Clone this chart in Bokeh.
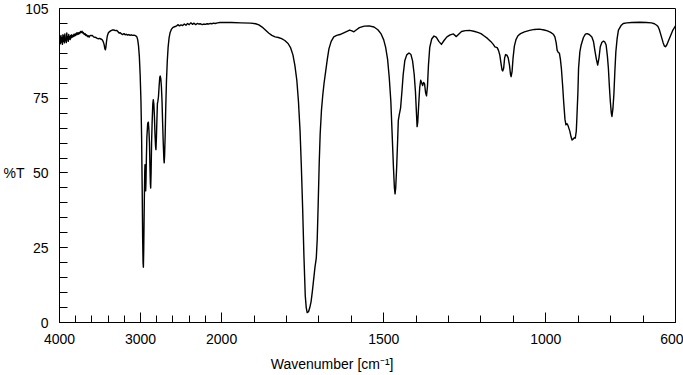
import numpy as np
from bokeh.plotting import figure
from bokeh.models import Range1d, FixedTicker, LinearAxis
from bokeh.embed import file_html
from bokeh.resources import INLINE

# ---------------- data ----------------
wavenumber = [
    4000, 3994, 3988, 3982, 3976, 3970, 3964, 3958, 3952, 3946, 3940, 3934, 3928, 3922, 3916, 3910,
    3904, 3898, 3892, 3886, 3880, 3874, 3868, 3862, 3856, 3850, 3844, 3838, 3830, 3822, 3814, 3806,
    3798, 3790, 3782, 3774, 3766, 3758, 3750, 3740, 3730, 3722, 3714, 3705, 3695, 3685, 3675, 3665,
    3655, 3645, 3635, 3625, 3615, 3605, 3595, 3580, 3565, 3550, 3535, 3520, 3505, 3490, 3475, 3462,
    3450, 3440, 3434, 3428, 3420, 3410, 3398, 3385, 3370, 3350, 3330, 3310, 3295, 3280, 3265, 3250,
    3235, 3220, 3205, 3190, 3175, 3160, 3145, 3130, 3115, 3100, 3085, 3070, 3055, 3045, 3035, 3025,
    3015, 3005, 2995, 2987, 2980, 2974, 2969, 2965, 2961, 2957, 2953, 2948, 2945, 2941, 2937, 2933,
    2928, 2922, 2912, 2904, 2897, 2890, 2884, 2879, 2875, 2870, 2864, 2857, 2849, 2843, 2836, 2829,
    2822, 2815, 2810, 2804, 2798, 2792, 2786, 2779, 2771, 2763, 2757, 2750, 2743, 2735, 2728, 2720,
    2712, 2708, 2703, 2696, 2689, 2680, 2670, 2660, 2648, 2635, 2620, 2600, 2580, 2560, 2540, 2520,
    2500, 2480, 2460, 2440, 2420, 2400, 2380, 2360, 2340, 2320, 2300, 2280, 2260, 2240, 2220, 2200,
    2180, 2160, 2140, 2120, 2100, 2080, 2050, 2020, 2000, 1970, 1940, 1910, 1895, 1885, 1875, 1865,
    1855, 1845, 1835, 1825, 1815, 1805, 1795, 1787, 1780, 1774, 1768, 1763, 1758, 1754, 1750, 1746,
    1742, 1739, 1736, 1732, 1728, 1724, 1720, 1716, 1712, 1708, 1705, 1702, 1699, 1696, 1692, 1688,
    1684, 1679, 1674, 1669, 1662, 1654, 1645, 1635, 1625, 1615, 1605, 1598, 1592, 1585, 1575, 1560,
    1545, 1530, 1518, 1508, 1500, 1494, 1488, 1483, 1478, 1474, 1470, 1467, 1465, 1463, 1460, 1457,
    1455, 1452, 1448, 1444, 1440, 1435, 1429, 1422, 1416, 1411, 1406, 1402, 1399, 1397, 1395, 1392,
    1389, 1386, 1383, 1380, 1377, 1374, 1371, 1368, 1365, 1362, 1358, 1352, 1345, 1338, 1330, 1322,
    1314, 1305, 1295, 1285, 1276, 1268, 1260, 1248, 1235, 1222, 1210, 1200, 1190, 1180, 1170, 1162,
    1157, 1150, 1146, 1142, 1138, 1135, 1133, 1130, 1127, 1124, 1120, 1116, 1112, 1109, 1107, 1104,
    1101, 1097, 1092, 1086, 1078, 1066, 1050, 1035, 1020, 1005, 995, 985, 977, 972, 968, 965,
    962, 958, 955, 952, 948, 945, 941, 938, 935, 932, 929, 926, 922, 919, 915, 912,
    909, 906, 904, 901, 899, 895, 891, 884, 878, 873, 866, 858, 853, 848, 844, 840,
    836, 832, 827, 822, 818, 814, 810, 807, 804, 801, 798, 796, 793, 790, 787, 784,
    780, 776, 768, 761, 750, 735, 710, 690, 674, 665, 658, 654, 650, 646, 642, 638,
    634, 631, 627, 621, 615, 608, 600,
]
transmittance = [
    94.0, 95.5, 93.2, 96.0, 93.8, 95.2, 93.0, 96.2, 94.0, 95.8, 93.5, 96.5, 94.2, 95.0, 93.6, 96.8,
    94.5, 95.5, 94.0, 96.3, 94.8, 95.6, 94.6, 96.0, 95.2, 96.2, 95.4, 96.0, 95.6, 96.4, 95.8, 96.5,
    96.0, 96.8, 96.3, 96.9, 96.4, 97.0, 96.6, 97.3, 97.0, 97.4, 96.8, 97.0, 96.3, 96.6, 96.0, 96.2,
    95.6, 95.9, 95.4, 95.9, 96.0, 95.9, 96.0, 95.5, 95.4, 95.3, 95.0, 94.9, 95.0, 94.8, 94.6, 94.0,
    93.0, 91.5, 91.2, 92.0, 94.0, 95.8, 96.8, 97.2, 97.5, 97.8, 97.8, 97.6, 97.7, 97.3, 96.8, 96.9,
    96.5, 96.3, 96.6, 96.2, 96.4, 96.1, 96.3, 96.0, 96.2, 96.0, 96.1, 96.0, 95.8, 95.5, 94.5, 92.5,
    89.0, 83.0, 74.0, 62.0, 45.0, 28.0, 20.0, 18.5, 24.0, 33.0, 42.0, 50.5, 52.8, 47.0, 44.0, 47.0,
    55.0, 62.0, 66.5, 67.0, 64.5, 60.0, 52.0, 46.5, 45.0, 50.0, 60.0, 67.0, 73.0, 74.5, 73.0, 69.0,
    63.0, 59.0, 57.8, 62.0, 68.0, 73.2, 74.0, 75.5, 79.0, 82.0, 82.4, 81.5, 79.0, 74.0, 67.0, 60.0,
    54.5, 53.4, 56.0, 63.0, 72.0, 81.0, 87.5, 92.0, 95.2, 97.0, 98.0, 98.7, 98.9, 99.1, 99.6, 99.2,
    99.5, 99.3, 99.8, 99.4, 100.0, 99.6, 100.2, 99.7, 100.1, 99.6, 100.0, 99.8, 99.9, 99.6, 99.8, 99.7,
    99.9, 99.8, 100.0, 99.9, 100.1, 100.0, 100.2, 100.3, 100.3, 100.3, 100.2, 100.1, 99.9, 99.5, 98.8, 97.8,
    96.8, 96.0, 95.5, 95.3, 94.9, 94.3, 93.3, 91.8, 89.5, 86.0, 81.0, 74.0, 64.0, 52.0, 38.0, 22.0,
    9.0, 5.0, 3.3, 3.6, 5.0, 7.0, 10.5, 14.5, 18.5, 21.5, 28.0, 40.0, 53.0, 63.0, 71.0, 76.0,
    80.0, 84.0, 88.0, 91.5, 94.0, 95.5, 96.0, 96.3, 96.8, 97.3, 97.8, 97.5, 97.2, 97.8, 98.6, 99.1,
    99.2, 98.8, 97.9, 96.5, 94.5, 92.0, 88.0, 82.0, 74.0, 63.0, 52.0, 45.0, 43.0, 45.0, 52.0, 61.0,
    67.5, 69.5, 71.7, 77.0, 82.8, 87.5, 89.5, 90.1, 89.6, 87.5, 83.0, 77.0, 70.0, 65.5, 67.0, 73.0,
    78.5, 81.0, 80.2, 79.2, 80.3, 79.8, 77.0, 75.8, 79.0, 86.0, 92.0, 94.8, 95.8, 95.4, 94.0, 93.0,
    94.3, 95.5, 96.2, 96.5, 95.6, 96.5, 97.3, 97.6, 97.7, 97.4, 97.0, 96.6, 95.8, 95.0, 94.0, 93.0,
    92.2, 91.9, 91.0, 89.5, 86.5, 84.5, 84.1, 85.0, 88.5, 89.6, 89.4, 88.5, 86.0, 83.0, 82.2, 84.0,
    88.5, 92.4, 94.6, 95.9, 96.6, 97.2, 97.7, 98.0, 98.1, 97.8, 97.5, 97.0, 96.4, 95.5, 93.5, 91.0,
    90.4, 90.0, 88.0, 85.0, 79.0, 73.9, 68.0, 66.1, 66.5, 66.0, 65.0, 64.0, 62.0, 61.0, 61.4, 61.8,
    61.7, 64.0, 68.9, 77.0, 85.0, 90.5, 92.8, 95.3, 96.4, 96.6, 96.3, 95.5, 94.0, 90.5, 88.0, 86.1,
    88.5, 92.2, 93.7, 94.1, 93.8, 92.8, 89.0, 85.0, 79.0, 73.9, 70.0, 68.9, 71.5, 76.4, 84.0, 90.5,
    95.0, 97.8, 99.3, 100.0, 100.2, 100.3, 100.4, 100.3, 100.2, 99.9, 99.4, 99.0, 98.0, 96.5, 95.0, 93.5,
    92.4, 92.2, 92.8, 94.4, 96.0, 97.8, 99.2,
]

major_tick_wavenumbers = [4000, 3000, 2000, 1500, 1000, 600]
major_tick_labels = ["4000", "3000", "2000", "1500", "1000", "600"]
minor_tick_wavenumbers = [3800, 3600, 3400, 3200, 2800, 2600, 2400, 2200,
                          1900, 1800, 1700, 1600, 1400, 1300, 1200, 1100,
                          900, 800, 700]
y_major_ticks = [0, 25, 50, 75, 105]
y_minor_ticks = list(range(5, 105, 5))
x_title = "Wavenumber [cm\u207b\u00b9]"
y_title = "%T"

# ---------------- broken (two-scale) wavenumber axis ----------------
BREAK = 2000.0
COMPRESS = 4.0  # region above 2000 cm-1 drawn at 1/4 scale


def to_axis(w):
    w = np.asarray(w, dtype=float)
    return np.where(w > BREAK, BREAK + (w - BREAK) / COMPRESS, w)


xs = to_axis(wavenumber)
x_left = float(to_axis([4000])[0])
x_right = float(to_axis([600])[0])

FONT = "Liberation Sans"
FSIZE = "14px"

p = figure(width=683, height=375, output_backend="svg", toolbar_location=None,
           x_range=Range1d(x_left, x_right), y_range=Range1d(0, 105),
           min_border_left=54, min_border_right=8, min_border_top=8, min_border_bottom=53)

p.line(xs, transmittance, line_color="black", line_width=1.4, line_join="round")

p.xgrid.visible = False
p.ygrid.visible = False
p.outline_line_color = "black"
p.outline_line_width = 1
p.background_fill_color = "white"
p.border_fill_color = "white"

maj_pos = [float(v) for v in to_axis(major_tick_wavenumbers)]
min_pos = [float(v) for v in to_axis(minor_tick_wavenumbers)]
p.xaxis.ticker = FixedTicker(ticks=maj_pos, minor_ticks=min_pos)
p.xaxis.major_label_overrides = {pos: lab for pos, lab in zip(maj_pos, major_tick_labels)}
p.yaxis.ticker = FixedTicker(ticks=y_major_ticks, minor_ticks=y_minor_ticks)

for ax in (p.xaxis, p.yaxis):
    ax.axis_line_color = "black"
    ax.major_tick_line_color = "black"
    ax.minor_tick_line_color = "black"
    ax.major_tick_out = 0
    ax.minor_tick_out = 0
    ax.major_label_text_font = FONT
    ax.major_label_text_font_size = FSIZE
    ax.major_label_text_color = "black"

p.xaxis.major_tick_in = 10
p.xaxis.minor_tick_in = 7
p.xaxis.major_label_standoff = 11
p.yaxis.major_tick_in = 8
p.yaxis.minor_tick_in = 8
p.yaxis.major_label_standoff = 11

# axis titles placed as single-label outer axes (horizontal "%T", offset x title)
px_per_unit_x = 621.0 / (x_left - x_right)
x_title_pos = round(x_left - (329.0 - 54.0) / px_per_unit_x)

x_title_axis = LinearAxis(ticker=FixedTicker(ticks=[x_title_pos], minor_ticks=[]),
                          major_label_overrides={x_title_pos: x_title})
y_title_axis = LinearAxis(ticker=FixedTicker(ticks=[50], minor_ticks=[]),
                          major_label_overrides={50: y_title})
for ax, standoff in ((x_title_axis, 9), (y_title_axis, -2)):
    ax.axis_line_color = None
    ax.major_tick_line_color = None
    ax.minor_tick_line_color = None
    ax.major_tick_out = 0
    ax.major_tick_in = 0
    ax.minor_tick_out = 0
    ax.minor_tick_in = 0
    ax.major_label_standoff = standoff
    ax.major_label_text_font = FONT
    ax.major_label_text_font_size = FSIZE
    ax.major_label_text_color = "black"
p.add_layout(x_title_axis, "below")
p.add_layout(y_title_axis, "left")

open("out.html", "w").write(file_html(p, INLINE))
